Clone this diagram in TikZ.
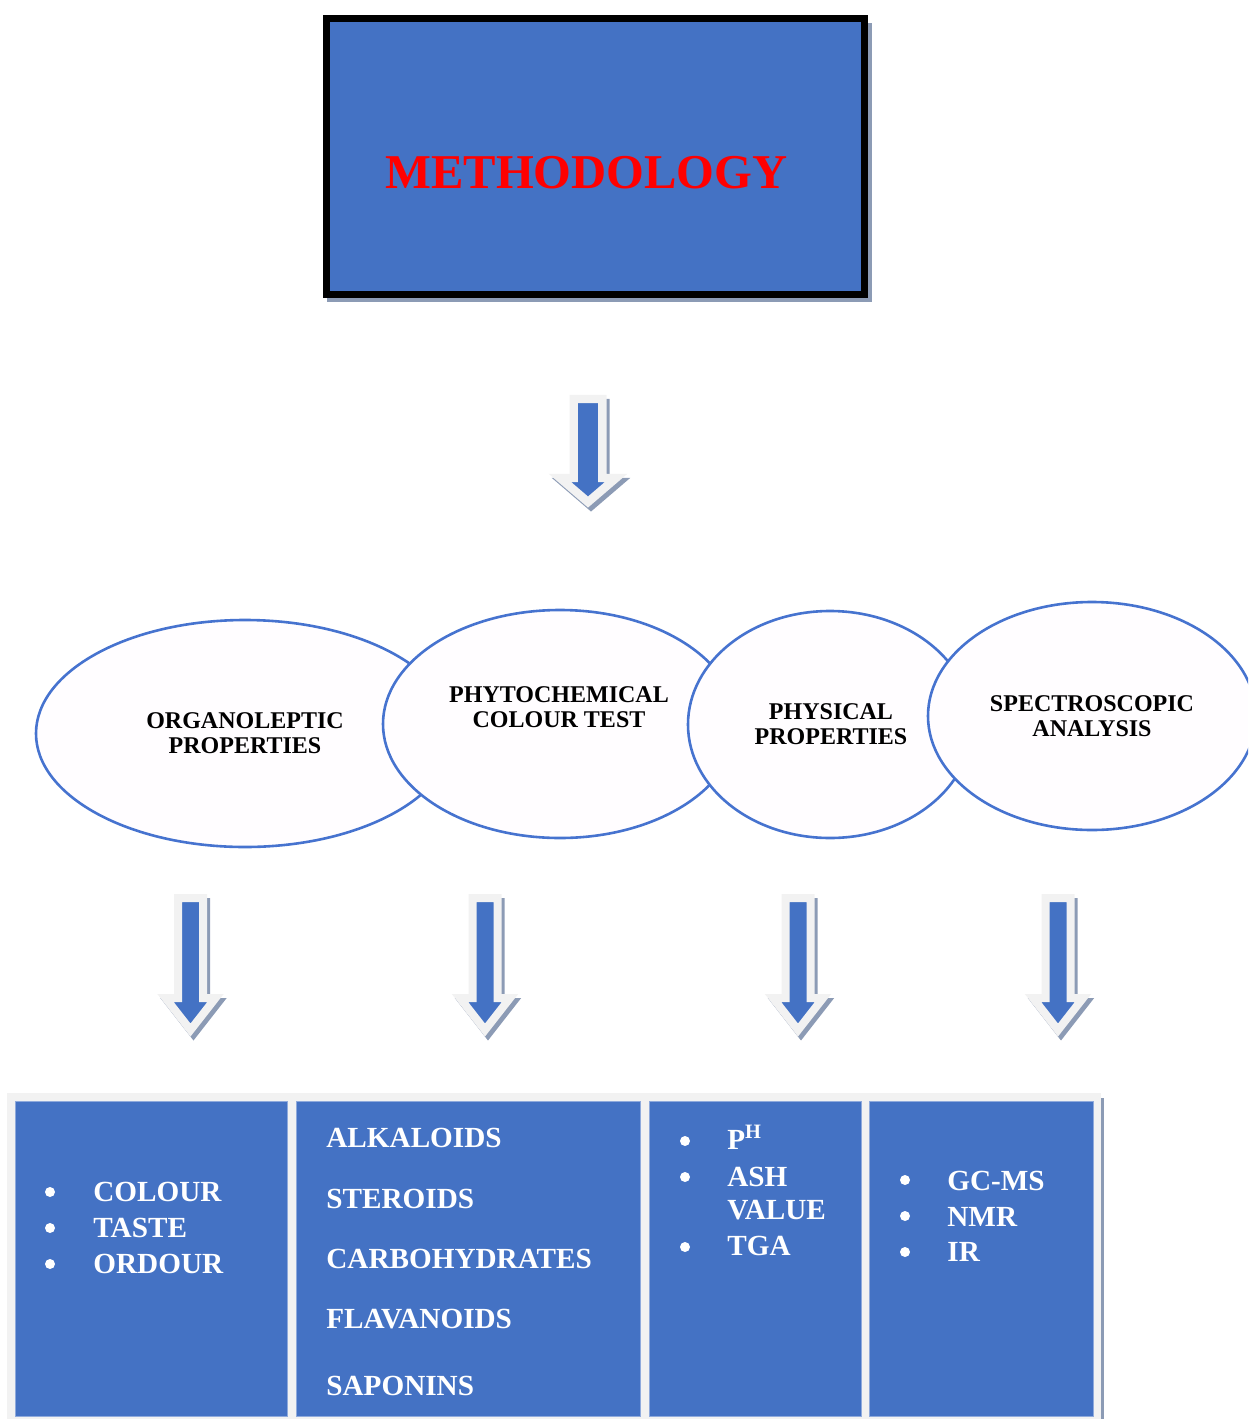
\documentclass[tikz,border=0pt]{standalone}
\usepackage{fontspec}
\setmainfont{Liberation Serif}
\usetikzlibrary{shapes.geometric}
\definecolor{mblue}{HTML}{4472C4}
\definecolor{lgray}{HTML}{F2F2F2}
\definecolor{shad}{HTML}{8C9BB5}
\definecolor{ovalfill}{HTML}{FFFDFF}
\definecolor{ovalline}{HTML}{4673CF}
\definecolor{boxedge}{HTML}{8FAADC}
% #1 cx, #2 top, #3 head base, #4 tip, #5 shaft half-width, #6 head half-width, #7 border width
\newcommand{\blockarr}[7]{%
  \begin{scope}[shift={(3,4)}]
    \filldraw[draw=shad, fill=shad, line width=#7, line join=miter]
      ({#1-#5},#2) -- ({#1+#5},#2) -- ({#1+#5},#3) -- ({#1+#6},#3) -- (#1,#4)
      -- ({#1-#6},#3) -- ({#1-#5},#3) -- cycle;
  \end{scope}
  \filldraw[draw=lgray, fill=mblue, line width=#7, line join=miter]
    ({#1-#5},#2) -- ({#1+#5},#2) -- ({#1+#5},#3) -- ({#1+#6},#3) -- (#1,#4)
    -- ({#1-#6},#3) -- ({#1-#5},#3) -- cycle;
}
\begin{document}
\begin{tikzpicture}[x=0.5pt,y=-0.5pt,
  oval/.style={ellipse, draw=ovalline, fill=ovalfill, line width=1.3pt, inner sep=0pt, outer sep=0pt},
  ovaltext/.style={font=\bfseries\fontsize{12}{12.5}\selectfont, align=center, inner sep=0pt, text=black},
  bluebox/.style={rectangle, fill=mblue, draw=boxedge, line width=0.5pt, inner sep=0pt, outer sep=0pt},
  lst/.style={font=\bfseries\fontsize{14.6}{17}\selectfont, text=white, anchor=base west, inner sep=0pt},
  bul/.style={circle, fill=white, minimum size=5pt, inner sep=0pt, outer sep=0pt}]
\useasboundingbox (0,0) rectangle (1248,1419);
\clip (0,0) rectangle (1248,1419);

% ---- top box
\fill[shad] (327,23) rectangle (872,302);
\node[rectangle, draw=black, fill=mblue, line width=3.5pt, minimum width=269pt, minimum height=138pt,
      inner sep=0pt, outer sep=0pt] (meth) at (595.5,156.5) {};
\node[anchor=base, text=red, inner sep=0pt, font=\bfseries\fontsize{24.3}{28}\selectfont]
      (methtext) at (586.5,188) {METHODOLOGY};

% ---- arrows
\blockarr{588}{399}{478}{502}{14.3}{28}{4.2pt}
\blockarr{190.5}{898}{998}{1030}{12.5}{25}{4pt}
\blockarr{485}{898}{998}{1030}{12.5}{25}{4pt}
\blockarr{798}{898}{998}{1030}{12.5}{25}{4pt}
\blockarr{1058}{898}{998}{1030}{12.5}{25}{4pt}

% ---- ellipses
\node[oval, minimum width=209pt, minimum height=113.5pt] (e1) at (245,733.5) {};
\node[oval, minimum width=177pt, minimum height=114pt] (e2) at (560,724) {};
\node[oval, minimum width=142pt, minimum height=113.5pt] (e3) at (830,724.5) {};
\node[oval, minimum width=164pt, minimum height=114pt] (e4) at (1092,716) {};
\node[ovaltext] (t1) at (245,733) {ORGANOLEPTIC\\PROPERTIES};
\node[ovaltext] (t2) at (559,707) {PHYTOCHEMICAL\\COLOUR TEST};
\node[ovaltext] (t3) at (831,724) {PHYSICAL\\PROPERTIES};
\node[ovaltext] (t4) at (1092,716) {SPECTROSCOPIC\\ANALYSIS};

% ---- bottom table
\fill[lgray] (7,1093) rectangle (1101,1419);
\fill[shad] (1101,1098) rectangle (1104,1419);
\node[bluebox, minimum width=136pt, minimum height=157.5pt] (b1) at (151,1258.5) {};
\node[bluebox, minimum width=172pt, minimum height=157.5pt] (b2) at (468,1258.5) {};
\node[bluebox, minimum width=106pt, minimum height=157.5pt] (b3) at (755,1258.5) {};
\node[bluebox, minimum width=112pt, minimum height=157.5pt] (b4) at (981,1258.5) {};

% box 1
\node[bul] (b1u1) at (50,1192) {};
\node[bul] (b1u2) at (50,1228) {};
\node[bul] (b1u3) at (50,1264) {};
\node[lst] (b1l1) at (93,1201) {COLOUR};
\node[lst] (b1l2) at (93,1237) {TASTE};
\node[lst] (b1l3) at (93,1273) {ORDOUR};

% box 2
\node[lst] (b2l1) at (326,1147) {ALKALOIDS};
\node[lst] (b2l2) at (326,1208) {STEROIDS};
\node[lst] (b2l3) at (326,1268) {CARBOHYDRATES};
\node[lst] (b2l4) at (326,1328) {FLAVANOIDS};
\node[lst] (b2l5) at (326,1395) {SAPONINS};

% box 3
\node[bul] (b3u1) at (685,1141) {};
\node[bul] (b3u2) at (685,1177) {};
\node[bul] (b3u3) at (685,1247) {};
\node[lst] (b3l1) at (727,1149) {P\textsuperscript{H}};
\node[lst] (b3l2) at (727,1186) {ASH};
\node[lst] (b3l3) at (727,1219) {VALUE};
\node[lst] (b3l4) at (727,1255) {TGA};

% box 4
\node[bul] (b4u1) at (905,1180) {};
\node[bul] (b4u2) at (905,1216) {};
\node[bul] (b4u3) at (905,1252) {};
\node[lst] (b4l1) at (947,1190) {GC-MS};
\node[lst] (b4l2) at (947,1226) {NMR};
\node[lst] (b4l3) at (947,1261) {IR};
\end{tikzpicture}
\end{document}
